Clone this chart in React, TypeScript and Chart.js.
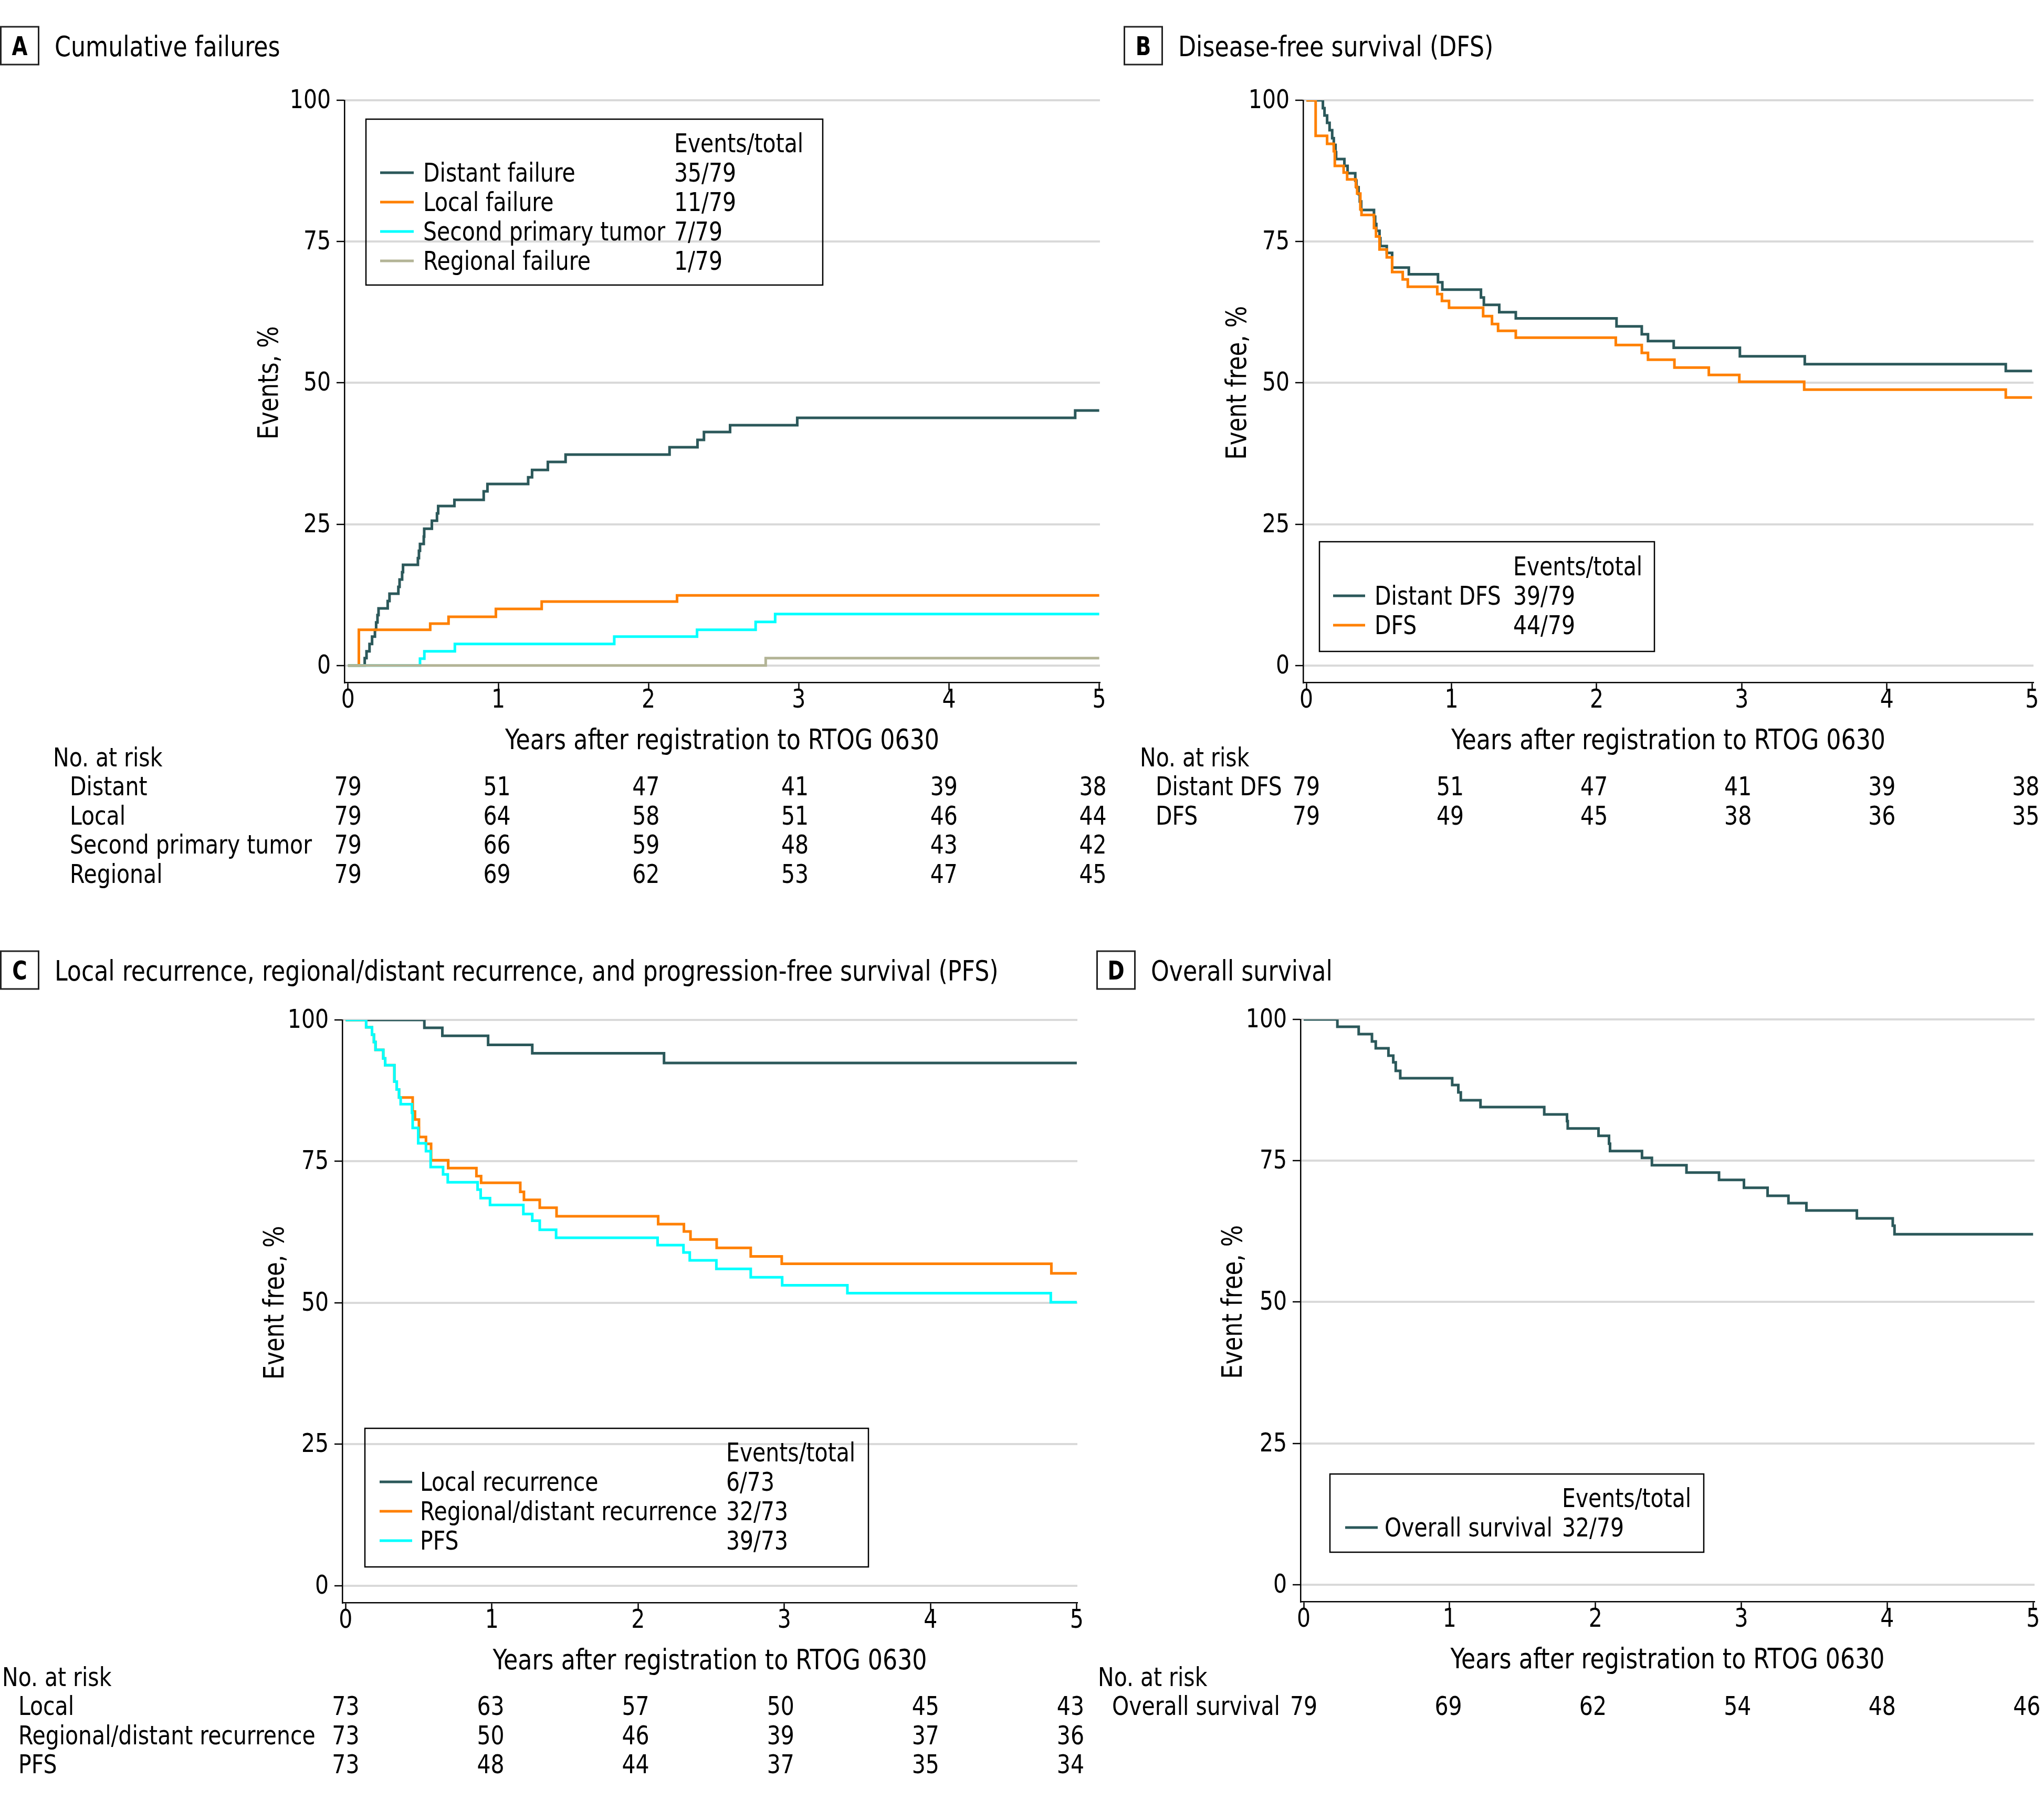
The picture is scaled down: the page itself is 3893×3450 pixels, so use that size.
import React, { useEffect, useRef } from "react";
import { Chart, registerables } from "chart.js";

Chart.register(...registerables);

const FONT = "'DejaVu Sans Condensed', 'DejaVu Sans', sans-serif";
const SX = 0.92;
const TEAL = "#2b585a";
const ORANGE = "#ff8000";
const CYAN = "#00ffff";
const SAGE = "#b3b496";

const yearTicks = [0, 1, 2, 3, 4, 5];
const pctTicks = [0, 25, 50, 75, 100];
const legendHeader = "Events/total";
const xAxisTitle = "Years after registration to RTOG 0630";
const riskHeader = "No. at risk";

// ---------- Panel A: cumulative failures (%) ----------
const distantFailT = [0, 0.111, 0.123, 0.143, 0.16, 0.179, 0.187, 0.196, 0.203, 0.264, 0.276, 0.335, 0.343, 0.36, 0.366, 0.465, 0.472, 0.479, 0.504, 0.507, 0.558, 0.592, 0.6, 0.708, 0.903, 0.928, 1.199, 1.225, 1.33, 1.448, 2.14, 2.326, 2.369, 2.543, 2.99, 4.84, 5.0];
const distantFailV = [0, 1.3, 2.5, 3.8, 5.1, 6.3, 7.6, 8.9, 10.1, 11.4, 12.7, 13.9, 15.2, 16.5, 17.8, 19.0, 20.3, 21.5, 22.8, 24.2, 25.6, 26.9, 28.2, 29.3, 30.8, 32.1, 33.3, 34.6, 36.0, 37.3, 38.6, 39.9, 41.3, 42.5, 43.8, 45.1, 45.1];
const localFailT = [0, 0.072, 0.547, 0.669, 0.984, 1.289, 2.19, 5.0];
const localFailV = [0, 6.3, 7.4, 8.6, 10.0, 11.3, 12.4, 12.4];
const secondPrimaryT = [0, 0.479, 0.508, 0.711, 1.772, 2.323, 2.713, 2.843, 5.0];
const secondPrimaryV = [0, 1.2, 2.5, 3.8, 5.1, 6.3, 7.7, 9.1, 9.1];
const regionalFailT = [0, 2.78, 5.0];
const regionalFailV = [0, 1.3, 1.3];
const riskALabels = ["Distant", "Local", "Second primary tumor", "Regional"];
const riskADistant = [79, 51, 47, 41, 39, 38];
const riskALocal = [79, 64, 58, 51, 46, 44];
const riskASecond = [79, 66, 59, 48, 43, 42];
const riskARegional = [79, 69, 62, 53, 47, 45];

// ---------- Panel B: disease-free survival (%) ----------
const distantDfsT = [0, 0.114, 0.125, 0.143, 0.16, 0.178, 0.189, 0.201, 0.205, 0.262, 0.284, 0.337, 0.345, 0.36, 0.368, 0.378, 0.466, 0.474, 0.482, 0.504, 0.51, 0.554, 0.591, 0.706, 0.907, 0.937, 1.203, 1.223, 1.329, 1.443, 2.137, 2.311, 2.354, 2.531, 2.987, 3.434, 4.819, 5.0];
const distantDfsV = [100, 98.6, 97.3, 96.0, 94.7, 93.3, 92.1, 90.8, 89.6, 88.4, 87.1, 85.8, 84.6, 83.4, 82.1, 80.6, 79.4, 78.1, 76.9, 75.6, 74.2, 73.0, 70.4, 69.2, 67.8, 66.5, 65.1, 63.8, 62.5, 61.4, 60.0, 58.6, 57.4, 56.2, 54.7, 53.3, 52.1, 52.1];
const dfsT = [0, 0.064, 0.143, 0.189, 0.196, 0.257, 0.281, 0.341, 0.35, 0.372, 0.38, 0.466, 0.48, 0.504, 0.554, 0.591, 0.664, 0.699, 0.902, 0.934, 0.983, 1.218, 1.279, 1.321, 1.443, 2.132, 2.311, 2.354, 2.536, 2.773, 2.983, 3.43, 4.819, 5.0];
const dfsV = [100, 93.7, 92.3, 91.0, 88.4, 87.2, 86.0, 84.7, 83.5, 80.7, 79.7, 77.4, 75.9, 73.6, 72.2, 69.6, 68.3, 67.0, 65.7, 64.5, 63.3, 61.8, 60.4, 59.2, 58.0, 56.7, 55.3, 54.1, 52.7, 51.4, 50.2, 48.8, 47.4, 47.4];
const riskBLabels = ["Distant DFS", "DFS"];
const riskBDistantDfs = [79, 51, 47, 41, 39, 38];
const riskBDfs = [79, 49, 45, 38, 36, 35];

// ---------- Panel C: local / regional-distant recurrence, PFS (%) ----------
const localRecT = [0, 0.538, 0.661, 0.974, 1.276, 2.177, 5.0];
const localRecV = [100, 98.6, 97.2, 95.6, 94.1, 92.4, 92.4];
const regDistRecT = [0, 0.14, 0.18, 0.193, 0.204, 0.257, 0.27, 0.333, 0.349, 0.365, 0.458, 0.474, 0.501, 0.549, 0.584, 0.701, 0.894, 0.926, 1.194, 1.219, 1.327, 1.442, 2.137, 2.313, 2.358, 2.537, 2.77, 2.982, 4.826, 5.0];
const regDistRecV = [100, 98.7, 97.4, 96.1, 94.7, 93.2, 92.0, 89.1, 87.7, 86.3, 83.8, 82.4, 79.3, 78.1, 75.2, 73.8, 72.4, 71.2, 69.6, 68.2, 66.8, 65.3, 63.9, 62.6, 61.2, 59.7, 58.2, 56.9, 55.2, 55.2];
const pfsT = [0, 0.14, 0.18, 0.193, 0.204, 0.257, 0.27, 0.333, 0.349, 0.365, 0.376, 0.453, 0.458, 0.496, 0.549, 0.581, 0.666, 0.698, 0.902, 0.923, 0.987, 1.215, 1.276, 1.327, 1.439, 2.133, 2.31, 2.353, 2.535, 2.77, 2.985, 3.431, 4.822, 5.0];
const pfsV = [100, 98.7, 97.4, 96.1, 94.7, 93.2, 92.0, 89.1, 87.7, 86.3, 85.1, 83.6, 80.9, 78.2, 76.8, 74.0, 72.7, 71.3, 70.0, 68.5, 67.3, 65.7, 64.5, 62.9, 61.5, 60.2, 58.9, 57.5, 56.0, 54.5, 53.1, 51.7, 50.1, 50.1];
const riskCLabels = ["Local", "Regional/distant recurrence", "PFS"];
const riskCLocal = [73, 63, 57, 50, 45, 43];
const riskCRegDist = [73, 50, 46, 39, 37, 36];
const riskCPfs = [73, 48, 44, 37, 35, 34];

// ---------- Panel D: overall survival (%) ----------
const osT = [0, 0.231, 0.377, 0.468, 0.494, 0.581, 0.614, 0.631, 0.662, 1.018, 1.06, 1.077, 1.212, 1.649, 1.805, 1.81, 2.021, 2.093, 2.1, 2.319, 2.387, 2.624, 2.847, 3.018, 3.18, 3.323, 3.446, 3.792, 4.038, 4.05, 5.0];
const osV = [100, 98.7, 97.4, 96.1, 94.9, 93.6, 92.4, 90.9, 89.6, 88.4, 87.1, 85.7, 84.5, 83.2, 82.0, 80.7, 79.4, 78.0, 76.7, 75.5, 74.2, 72.9, 71.6, 70.2, 68.8, 67.5, 66.2, 64.8, 63.5, 62.0, 62.0];
const riskDLabels = ["Overall survival"];
const riskDOs = [79, 69, 62, 54, 48, 46];

type Series = { t: number[]; v: number[]; color: string; label: string; events: string };
type Spec = {
  letter: string;
  title: string;
  yTitle: string;
  cv: { left: number; top: number; w: number; h: number };
  area: { left: number; right: number; top: number; bottom: number };
  xmin: number;
  xmax: number;
  boxX: number;
  headBase: number;
  yTitleX: number;
  series: Series[];
  leg: { x0: number; y0: number; x1: number; y1: number; lineX0: number; lineX1: number; labelX: number; valX: number; headBase: number };
  risk: { headX: number; labelX: number; headBase: number; labels: string[]; rows: number[][] };
};

const specs: Spec[] = [
  {
    letter: "A",
    title: "Cumulative failures",
    yTitle: "Events, %",
    cv: { left: 0, top: 0, w: 2120, h: 1725 },
    area: { left: 656, right: 2095, top: 191, bottom: 1300 },
    xmin: -0.024,
    xmax: 5.005,
    boxX: 0,
    headBase: 107,
    yTitleX: 510,
    series: [
      { t: distantFailT, v: distantFailV, color: TEAL, label: "Distant failure", events: "35/79" },
      { t: localFailT, v: localFailV, color: ORANGE, label: "Local failure", events: "11/79" },
      { t: secondPrimaryT, v: secondPrimaryV, color: CYAN, label: "Second primary tumor", events: "7/79" },
      { t: regionalFailT, v: regionalFailV, color: SAGE, label: "Regional failure", events: "1/79" },
    ],
    leg: { x0: 697, y0: 227, x1: 1567, y1: 543, lineX0: 724, lineX1: 788, labelX: 806, valX: 1284, headBase: 290 },
    risk: { headX: 101, labelX: 133, headBase: 1460, labels: riskALabels, rows: [riskADistant, riskALocal, riskASecond, riskARegional] },
  },
  {
    letter: "B",
    title: "Disease-free survival (DFS)",
    yTitle: "Event free, %",
    cv: { left: 2120, top: 0, w: 1773, h: 1725 },
    area: { left: 2482, right: 3873, top: 191, bottom: 1300 },
    xmin: -0.022,
    xmax: 5.01,
    boxX: 2140,
    headBase: 107,
    yTitleX: 2354,
    series: [
      { t: distantDfsT, v: distantDfsV, color: TEAL, label: "Distant DFS", events: "39/79" },
      { t: dfsT, v: dfsV, color: ORANGE, label: "DFS", events: "44/79" },
    ],
    leg: { x0: 2513, y0: 1032, x1: 3151, y1: 1241, lineX0: 2539, lineX1: 2600, labelX: 2618, valX: 2882, headBase: 1096 },
    risk: { headX: 2171, labelX: 2201, headBase: 1460, labels: riskBLabels, rows: [riskBDistantDfs, riskBDfs] },
  },
  {
    letter: "C",
    title: "Local recurrence, regional/distant recurrence, and progression-free survival (PFS)",
    yTitle: "Event free, %",
    cv: { left: 0, top: 1725, w: 2080, h: 1725 },
    area: { left: 652, right: 2052, top: 1943, bottom: 3053 },
    xmin: -0.023,
    xmax: 5.004,
    boxX: 0,
    headBase: 1868,
    yTitleX: 521,
    series: [
      { t: localRecT, v: localRecV, color: TEAL, label: "Local recurrence", events: "6/73" },
      { t: regDistRecT, v: regDistRecV, color: ORANGE, label: "Regional/distant recurrence", events: "32/73" },
      { t: pfsT, v: pfsV, color: CYAN, label: "PFS", events: "39/73" },
    ],
    leg: { x0: 695, y0: 2721, x1: 1654, y1: 2985, lineX0: 723, lineX1: 785, labelX: 800, valX: 1383, headBase: 2784 },
    risk: { headX: 4, labelX: 35, headBase: 3212, labels: riskCLabels, rows: [riskCLocal, riskCRegDist, riskCPfs] },
  },
  {
    letter: "D",
    title: "Overall survival",
    yTitle: "Event free, %",
    cv: { left: 2080, top: 1725, w: 1813, h: 1725 },
    area: { left: 2477, right: 3875, top: 1942, bottom: 3051 },
    xmin: -0.0216,
    xmax: 5.01,
    boxX: 2088,
    headBase: 1868,
    yTitleX: 2346,
    series: [{ t: osT, v: osV, color: TEAL, label: "Overall survival", events: "32/79" }],
    leg: { x0: 2533, y0: 2808, x1: 3245, y1: 2957, lineX0: 2562, lineX1: 2624, labelX: 2637, valX: 2975, headBase: 2871 },
    risk: { headX: 2091, labelX: 2118, headBase: 3212, labels: riskDLabels, rows: [riskDOs] },
  },
];

function txt(
  ctx: CanvasRenderingContext2D,
  s: string,
  x: number,
  y: number,
  size: number,
  align: CanvasTextAlign = "left",
  bold = false,
  sx = SX
) {
  ctx.save();
  ctx.font = `${bold ? "bold " : ""}${size}px ${FONT}`;
  ctx.fillStyle = "#000";
  ctx.textBaseline = "alphabetic";
  ctx.textAlign = align;
  ctx.translate(x, y);
  ctx.scale(sx, 1);
  ctx.fillText(s, 0, 0);
  ctx.restore();
}

function overlay(spec: Spec) {
  return {
    id: "overlay" + spec.letter,
    afterDraw(chart: any) {
      const ctx = chart.ctx as CanvasRenderingContext2D;
      const xs = chart.scales.x;
      const ys = chart.scales.y;
      const X = (v: number) => xs.getPixelForValue(v) + spec.cv.left;
      const Y = (v: number) => ys.getPixelForValue(v) + spec.cv.top;
      const { area, leg, risk } = spec;
      ctx.save();
      ctx.translate(-spec.cv.left, -spec.cv.top);

      // panel letter box + title
      ctx.strokeStyle = "#222";
      ctx.lineWidth = 3;
      ctx.strokeRect(spec.boxX + 1.5, spec.headBase - 56, 72, 72);
      txt(ctx, spec.letter, spec.boxX + 37.5, spec.headBase - 2, 50, "center", true, 0.86);
      txt(ctx, spec.title, spec.boxX + 104, spec.headBase, 53.5, "left");

      // y tick labels
      pctTicks.forEach((v) => txt(ctx, String(v), area.left - 26, Y(v) + 15, 49.5, "right"));
      // x tick labels
      yearTicks.forEach((v) => txt(ctx, String(v), X(v), area.bottom + 48, 49.5, "center"));
      // axis titles
      txt(ctx, xAxisTitle, (area.left + area.right) / 2, area.bottom + 127, 53.5, "center");
      ctx.save();
      ctx.translate(spec.yTitleX, Y(50));
      ctx.rotate(-Math.PI / 2);
      txt(ctx, spec.yTitle, 0, 19, 52.5, "center");
      ctx.restore();

      // legend
      ctx.strokeStyle = "#000";
      ctx.lineWidth = 2.5;
      ctx.strokeRect(leg.x0, leg.y0, leg.x1 - leg.x0, leg.y1 - leg.y0);
      txt(ctx, legendHeader, leg.valX, leg.headBase, 49.5, "left");
      spec.series.forEach((s, i) => {
        const base = leg.headBase + 56 * (i + 1);
        ctx.strokeStyle = s.color;
        ctx.lineWidth = 5;
        ctx.beginPath();
        ctx.moveTo(leg.lineX0, base - 17);
        ctx.lineTo(leg.lineX1, base - 17);
        ctx.stroke();
        txt(ctx, s.label, leg.labelX, base, 49.5, "left");
        txt(ctx, s.events, leg.valX, base, 49.5, "left");
      });

      // number at risk table
      txt(ctx, riskHeader, risk.headX, risk.headBase, 49.5, "left");
      risk.rows.forEach((row, i) => {
        const base = risk.headBase + 55 + 55.7 * i;
        txt(ctx, risk.labels[i], risk.labelX, base, 49.5, "left");
        row.forEach((n, k) => txt(ctx, String(n), X(yearTicks[k]) - 2.4 * k, base, 49.5, "center"));
      });

      ctx.restore();
    },
  };
}

function PanelChart({ spec }: { spec: Spec }) {
  const ref = useRef<HTMLCanvasElement>(null);
  useEffect(() => {
    const canvas = ref.current;
    if (!canvas) return;
    const { cv, area } = spec;
    const chart = new Chart(canvas, {
      type: "line",
      data: {
        datasets: spec.series.map((s, i) => ({
          label: s.label,
          data: s.t.map((t, k) => ({ x: t, y: s.v[k] })),
          borderColor: s.color,
          backgroundColor: s.color,
          borderWidth: 5,
          pointRadius: 0,
          pointHoverRadius: 0,
          stepped: "before",
          fill: false,
          tension: 0,
          order: spec.series.length - i,
          borderCapStyle: "butt",
          borderJoinStyle: "miter",
        })),
      },
      options: {
        responsive: false,
        animation: false,
        devicePixelRatio: 1,
        events: [],
        layout: {
          padding: { left: 0, top: area.top - cv.top, right: cv.left + cv.w - area.right, bottom: 0 },
        },
        plugins: { legend: { display: false }, tooltip: { enabled: false }, title: { display: false } },
        scales: {
          x: {
            type: "linear",
            min: spec.xmin,
            max: spec.xmax,
            afterBuildTicks: (s: any) => {
              s.ticks = yearTicks.map((v) => ({ value: v }));
            },
            afterFit: (s: any) => {
              s.height = cv.top + cv.h - area.bottom;
            },
            grid: { drawOnChartArea: false, drawTicks: true, tickLength: 15, tickColor: "#000", tickWidth: 2.5 },
            border: { display: true, color: "#000", width: 2.5 },
            ticks: { display: false },
          },
          y: {
            type: "linear",
            min: -3,
            max: 100,
            afterBuildTicks: (s: any) => {
              s.ticks = pctTicks.map((v) => ({ value: v }));
            },
            afterFit: (s: any) => {
              s.width = area.left - cv.left;
            },
            grid: { color: "#d9d9d9", lineWidth: 4, drawTicks: true, tickLength: 15, tickColor: "#000", tickWidth: 2.5 },
            border: { display: true, color: "#000", width: 2.5 },
            ticks: { display: false },
          },
        },
      } as any,
      plugins: [overlay(spec)],
    } as any);
    return () => chart.destroy();
  }, [spec]);
  return (
    <canvas
      ref={ref}
      width={spec.cv.w}
      height={spec.cv.h}
      style={{ position: "absolute", left: spec.cv.left, top: spec.cv.top, width: spec.cv.w, height: spec.cv.h }}
    />
  );
}

export default function App() {
  return (
    <div style={{ position: "absolute", left: 0, top: 0, width: 3893, height: 3450, background: "#fff", overflow: "hidden" }}>
      {specs.map((s) => (
        <PanelChart key={s.letter} spec={s} />
      ))}
    </div>
  );
}
